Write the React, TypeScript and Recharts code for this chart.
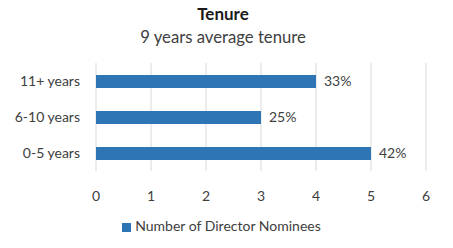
import React from 'react';
import { BarChart, Bar, XAxis, YAxis, CartesianGrid, Legend, LabelList } from 'recharts';

const categories = ['11+ years', '6-10 years', '0-5 years'];
const nominees = [4, 3, 5];
const shares = ['33%', '25%', '42%'];
const xTicks = [0, 1, 2, 3, 4, 5, 6];

const data = categories.map((c, i) => ({ name: c, value: nominees[i], share: shares[i] }));

const FONT = 'Lato, "Open Sans", sans-serif';

export default function App() {
  return (
    <div style={{ position: 'absolute', left: 0, top: 0, width: 453, height: 248, background: '#fff', fontFamily: FONT }}>
      <div style={{ position: 'absolute', left: 0, width: 446, top: 3, textAlign: 'center', fontSize: 17, fontWeight: 700, color: '#1a1a1a', lineHeight: '22px' }}>Tenure</div>
      <div style={{ position: 'absolute', left: 0, width: 446, top: 26, textAlign: 'center', fontSize: 16.7, color: '#404040', lineHeight: '22px' }}>9 years average tenure</div>
      <BarChart
        width={453}
        height={248}
        data={data}
        layout="vertical"
        margin={{ top: 63, right: 27, left: 0, bottom: 30 }}
        barSize={13}
      >
        <CartesianGrid horizontal={false} stroke="#d9d9d9" />
        <XAxis
          type="number"
          domain={[0, 6]}
          ticks={xTicks}
          axisLine={false}
          tickLine={false}
          tickMargin={14}
          tick={{ fill: '#404040', fontSize: 14, fontFamily: FONT }}
          height={30}
          interval={0}
        />
        <YAxis
          type="category"
          dataKey="name"
          width={96}
          axisLine={false}
          tickLine={false}
          tickMargin={10}
          tick={{ fill: '#404040', fontSize: 14, fontFamily: FONT }}
        />
        <Legend
          verticalAlign="bottom"
          align="center"
          iconType="square"
          iconSize={9}
          wrapperStyle={{ top: 217, left: 0, width: 453, fontSize: 14, fontFamily: FONT }}
          formatter={(v) => <span style={{ color: '#404040' }}>{v}</span>}
        />
        <Bar dataKey="value" name="Number of Director Nominees" fill="#2E75B6" isAnimationActive={false}>
          <LabelList dataKey="share" position="right" offset={8} fill="#404040" fontSize={14} fontFamily={FONT} />
        </Bar>
      </BarChart>
    </div>
  );
}
